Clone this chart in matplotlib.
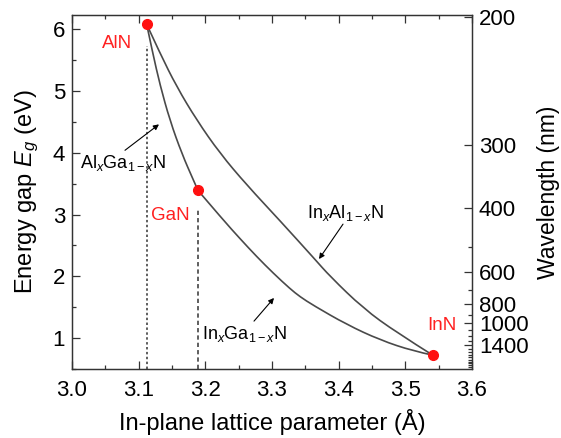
import numpy as np, matplotlib.pyplot as plt
import matplotlib as mpl
from matplotlib.ticker import MultipleLocator, FixedLocator
from matplotlib.path import Path
from matplotlib.patches import PathPatch

mpl.rcParams["font.family"] = ["Liberation Sans", "DejaVu Sans"]
mpl.rcParams["mathtext.fontset"] = "custom"
mpl.rcParams["mathtext.rm"] = "Liberation Sans"
mpl.rcParams["mathtext.it"] = "Liberation Sans:italic"

# binary end points: lattice parameter (A), gap (eV)
binaries = ["AlN", "GaN", "InN"]
bin_a = [3.112, 3.189, 3.541]
bin_E = [6.08, 3.39, 0.725]

# ternary curves
algan_a = [3.112, 3.121, 3.132, 3.147, 3.165, 3.182, 3.189]
algan_E = [6.08, 5.62, 5.10, 4.52, 3.98, 3.56, 3.39]
ingan_a = [3.189, 3.227, 3.252, 3.277, 3.302, 3.327, 3.342, 3.362, 3.412, 3.462, 3.512, 3.541]
ingan_E = [3.39, 2.91, 2.61, 2.32, 2.05, 1.80, 1.67, 1.53, 1.22, 0.97, 0.79, 0.725]
inaln_a = [3.112, 3.132, 3.157, 3.187, 3.222, 3.262, 3.312, 3.364, 3.387, 3.437, 3.487, 3.541]
inaln_E = [6.08, 5.61, 5.07, 4.53, 3.99, 3.48, 2.90, 2.28, 2.00, 1.48, 1.09, 0.725]

wl_major = [200, 300, 400, 600, 800, 1000, 1400]
wl_minor = list(range(200, 2400, 100))


def smooth_path(xs, ys):
    # quadratic Bezier path through the read points (rendering only)
    p = list(zip(xs, ys))
    verts, codes = [p[0]], [Path.MOVETO]
    for i in range(1, len(p) - 2):
        mid = ((p[i][0] + p[i+1][0]) / 2, (p[i][1] + p[i+1][1]) / 2)
        verts += [p[i], mid]; codes += [Path.CURVE3, Path.CURVE3]
    verts += [p[-2], p[-1]]; codes += [Path.CURVE3, Path.CURVE3]
    return Path(verts, codes)


fig = plt.figure(figsize=(5.61, 4.38), dpi=100)
ax = fig.add_axes([0.1283, 0.1575, 0.7131, 0.8083])
CUR = "#4a4a4a"
for a, E in [(algan_a, algan_E), (ingan_a, ingan_E), (inaln_a, inaln_E)]:
    ax.add_patch(PathPatch(smooth_path(a, E), fill=False, ec=CUR, lw=1.2, zorder=2))
ax.plot([bin_a[0]]*2, [0.5, 5.72], color="#333333", lw=1.1, ls=(0, (1.6, 1.6)), zorder=1)
ax.plot([bin_a[1]]*2, [0.5, 3.10], color="#333333", lw=1.1, ls=(0, (2.8, 2.0)), zorder=1)
ax.plot(bin_a, bin_E, ls="none", marker="o", ms=7, color="#ff1010", mec="#ff1010", zorder=3)

RED = "#ff2020"
ax.text(3.0675, 5.77, "AlN", color=RED, fontsize=13.5, ha="center", va="center")
ax.text(3.147, 2.99, "GaN", color=RED, fontsize=13.5, ha="center", va="center")
ax.text(3.555, 1.21, "InN", color=RED, fontsize=13.5, ha="center", va="center")

ap = dict(arrowstyle="-|>", lw=0.8, color="black", mutation_scale=8, shrinkA=0, shrinkB=0)
ax.text(3.012, 3.75, r"Al$_x$Ga$_{1-x}$N", fontsize=13, ha="left", va="baseline")
ax.annotate("", xy=(3.1305, 4.46), xytext=(3.0795, 4.04), arrowprops=ap)
ax.text(3.3525, 2.94, r"In$_x$Al$_{1-x}$N", fontsize=13, ha="left", va="baseline")
ax.annotate("", xy=(3.3705, 2.28), xytext=(3.4065, 2.845), arrowprops=ap)
ax.text(3.195, 0.98, r"In$_x$Ga$_{1-x}$N", fontsize=13, ha="left", va="baseline")
ax.annotate("", xy=(3.303, 1.65), xytext=(3.273, 1.275), arrowprops=ap)

ax.set_xlim(3.0, 3.6); ax.set_ylim(0.5, 6.23)
ax.xaxis.set_major_locator(MultipleLocator(0.1)); ax.xaxis.set_minor_locator(MultipleLocator(0.05))
ax.yaxis.set_major_locator(MultipleLocator(1)); ax.yaxis.set_minor_locator(MultipleLocator(0.5))
ax.xaxis.set_major_formatter(mpl.ticker.FormatStrFormatter("%.1f"))
ax.tick_params(which="both", direction="in", top=True, right=False, labelsize=16, width=0.9, color="#333333")
ax.tick_params(which="major", length=6)
ax.tick_params(which="minor", length=3)
ax.tick_params(axis="x", pad=8); ax.tick_params(axis="y", pad=5)
ax.set_xlabel("In-plane lattice parameter (Å)", fontsize=17, labelpad=6)
ax.set_ylabel(r"Energy gap $E_g$ (eV)", fontsize=17, labelpad=8)

ax2 = ax.twinx()
ax2.set_ylim(ax.get_ylim())
ax2.yaxis.set_major_locator(FixedLocator([1239.84/w for w in wl_major]))
ax2.set_yticklabels([str(w) for w in wl_major])
ax2.yaxis.set_minor_locator(FixedLocator([1239.84/w for w in wl_minor if w not in wl_major]))
ax2.tick_params(which="both", direction="in", labelsize=16, width=0.9, color="#333333", pad=5)
ax2.tick_params(which="major", length=6)
ax2.tick_params(which="minor", length=3)
ax2.set_ylabel("Wavelength (nm)", fontsize=16.5, labelpad=6)

for a_ in (ax, ax2):
    for s in a_.spines.values():
        s.set_color("#333333"); s.set_linewidth(0.9)

fig.savefig("out.png", dpi=100)
